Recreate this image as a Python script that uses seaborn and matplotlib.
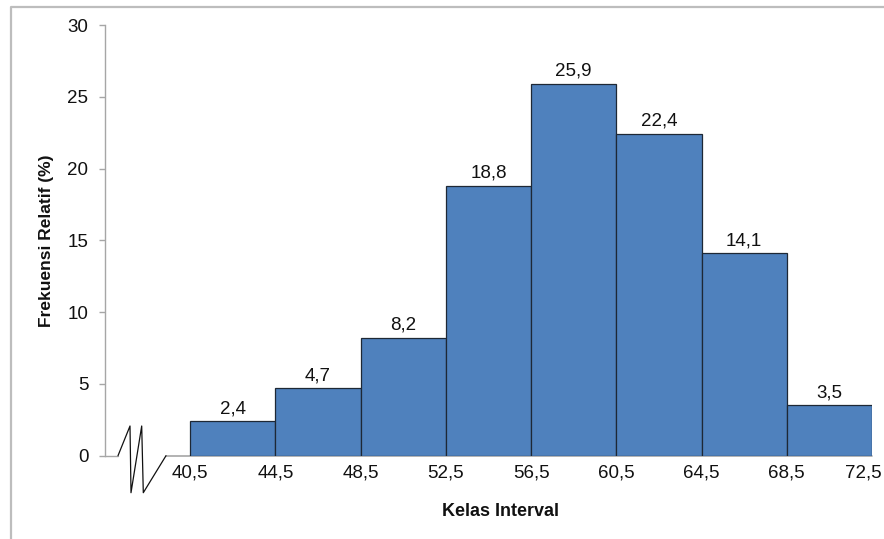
import numpy as np
import pandas as pd
import matplotlib
matplotlib.use("Agg")
import matplotlib.pyplot as plt
import matplotlib.transforms as mtransforms
from matplotlib.lines import Line2D
import seaborn as sns

# Class boundaries and relative frequency (%) per class
class_edges = [40.5, 44.5, 48.5, 52.5, 56.5, 60.5, 64.5, 68.5, 72.5]
rel_freq = [2.4, 4.7, 8.2, 18.8, 25.9, 22.4, 14.1, 3.5]
edge_labels = ["40,5", "44,5", "48,5", "52,5", "56,5", "60,5", "64,5", "68,5", "72,5"]
y_ticks = [0, 5, 10, 15, 20, 25, 30]

sns.set_theme(style="white")
plt.rcParams["font.family"] = ["Liberation Sans", "DejaVu Sans"]

midpoints = [(a + b) / 2 for a, b in zip(class_edges[:-1], class_edges[1:])]
df = pd.DataFrame({"mid": midpoints, "pct": rel_freq})

fig = plt.figure(figsize=(8.84, 5.39), dpi=100)
W, H = 884, 539
ax_left, ax_right = 105 / W, 872 / W
ax_bottom, ax_top = 1 - 455.7 / H, 1 - 25 / H
ax = fig.add_axes([ax_left, ax_bottom, ax_right - ax_left, ax_top - ax_bottom])

sns.histplot(data=df, x="mid", weights="pct", bins=class_edges, stat="count",
             color="#4F81BD", alpha=1.0, edgecolor="#1E2835", linewidth=0.9, ax=ax)

ax.set_xlim(36.5, 72.5)
ax.set_ylim(0, 30)

# Value labels above each bar
cont = ax.containers[0]
ax.bar_label(cont, labels=[f"{v:.1f}".replace(".", ",") for v in rel_freq],
             padding=3, fontsize=13.5, color="#111111")

# Axes styling
for s in ["top", "right", "bottom"]:
    ax.spines[s].set_visible(False)
ax.spines["left"].set_color("#A6A6A6")
ax.spines["left"].set_linewidth(1.0)

ax.set_yticks(y_ticks)
ax.set_yticklabels([str(t) for t in y_ticks])
ax.tick_params(axis="y", which="major", length=4, width=1.0, color="#A6A6A6",
               pad=8, labelsize=13.5, labelcolor="#111111", left=True, direction="out")
ax.set_xticks(class_edges)
ax.set_xticklabels(edge_labels)
ax.tick_params(axis="x", length=0, pad=6.5, labelsize=13.5, labelcolor="#111111")
last = ax.get_xticklabels()[-1]
last.set_transform(last.get_transform() + mtransforms.ScaledTranslation(-9 / 100, 0, fig.dpi_scale_trans))

ax.set_xlabel("Kelas Interval", fontsize=13, fontweight="bold", color="#111111")
ax.set_ylabel("Frekuensi Relatif (%)", fontsize=12.5, fontweight="bold", color="#111111")
ax.xaxis.set_label_coords((500 - 105) / 767, -(503 - 455.7) / 430.7)
ax.yaxis.set_label_coords((54 - 105) / 767, 0.5)

# Baseline with axis-break symbol
def px(x, y):
    return ((x - 105) / 767, (455.7 - y) / 430.7)

gray = "#A6A6A6"
x0, y0 = px(105, 455.7)
x1, _ = px(118, 455.7)
ax.add_line(Line2D([x0, x1], [y0, y0], transform=ax.transAxes, color=gray, lw=1.0, clip_on=False))
zig = [px(118, 455.7), px(130, 426), px(131, 492.7), px(141.7, 426), px(143.3, 492.7), px(166, 455.7)]
ax.add_line(Line2D([p[0] for p in zig], [p[1] for p in zig], transform=ax.transAxes,
                   color="#111111", lw=0.9, clip_on=False))
xs, _ = px(166, 455.7)
ax.add_line(Line2D([xs, 1.0], [y0, y0], transform=ax.transAxes, color=gray, lw=1.2,
                   clip_on=False, zorder=0.5))

# Outer frame (left and top edges)
fig.add_artist(Line2D([11 / W, 11 / W, 1.0], [0.0, 1 - 7 / H, 1 - 7 / H],
                      transform=fig.transFigure, color="#BDBDBD", lw=1.6))

fig.savefig("out.png", dpi=100)
